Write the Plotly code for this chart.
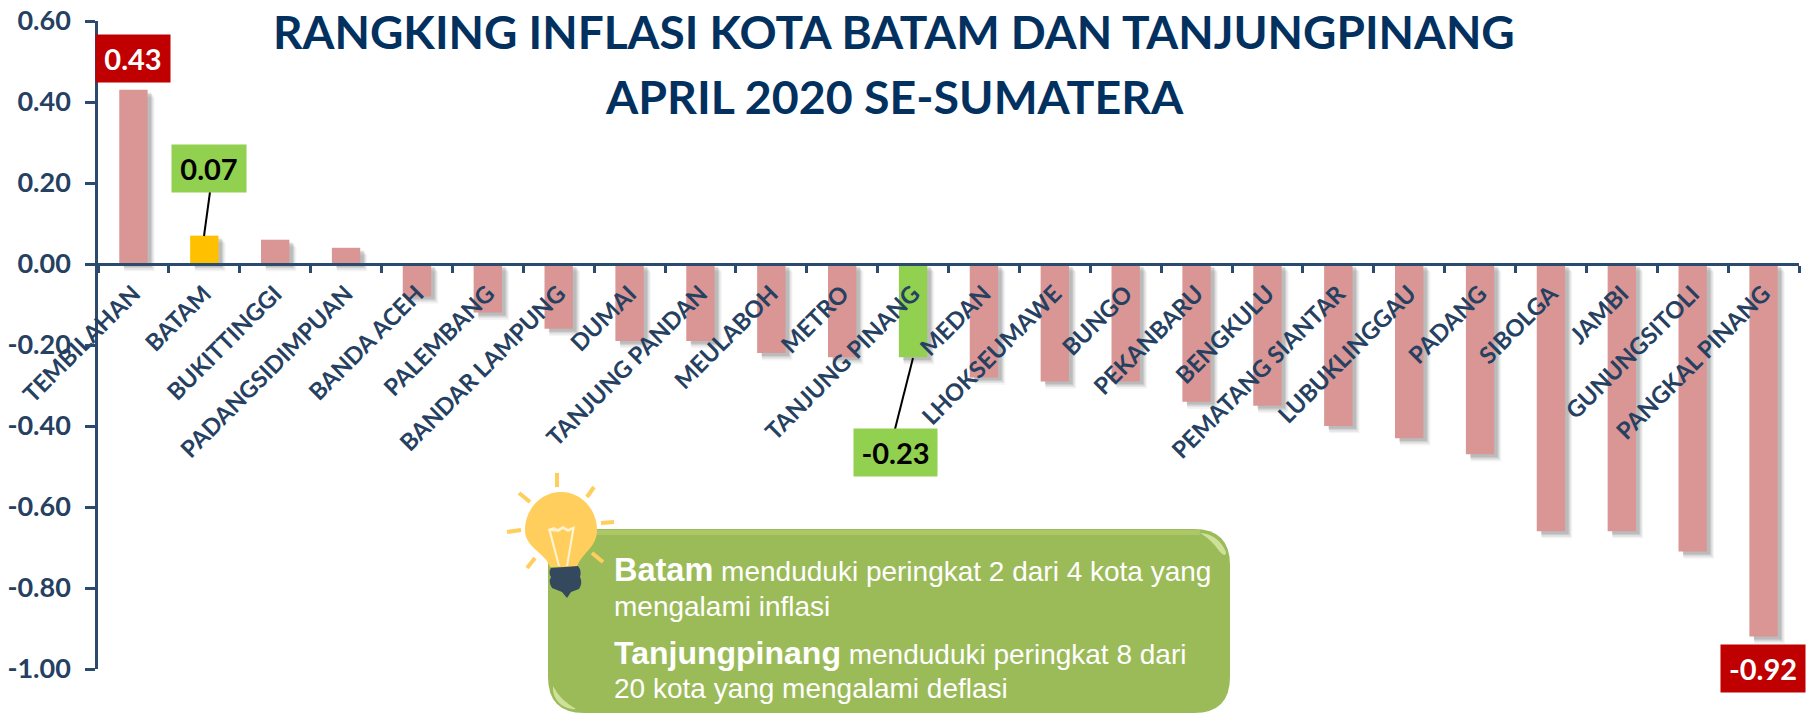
import plotly.graph_objects as go

categories = ["TEMBILAHAN", "BATAM", "BUKITTINGGI", "PADANGSIDIMPUAN", "BANDA ACEH", "PALEMBANG",
              "BANDAR LAMPUNG", "DUMAI", "TANJUNG PANDAN", "MEULABOH", "METRO", "TANJUNG PINANG",
              "MEDAN", "LHOKSEUMAWE", "BUNGO", "PEKANBARU", "BENGKULU", "PEMATANG SIANTAR",
              "LUBUKLINGGAU", "PADANG", "SIBOLGA", "JAMBI", "GUNUNGSITOLI", "PANGKAL PINANG"]
values = [0.43, 0.07, 0.06, 0.04, -0.08, -0.12, -0.16, -0.19, -0.19, -0.22, -0.23, -0.23,
          -0.28, -0.29, -0.29, -0.34, -0.35, -0.40, -0.43, -0.47, -0.66, -0.66, -0.71, -0.92]
y_ticks = [0.6, 0.4, 0.2, 0.0, -0.2, -0.4, -0.6, -0.8, -1.0]
y_tick_labels = ["0.60", "0.40", "0.20", "0.00", "-0.20", "-0.40", "-0.60", "-0.80", "-1.00"]
title_lines = ["RANGKING INFLASI KOTA BATAM DAN TANJUNGPINANG", "APRIL 2020 SE-SUMATERA"]

W, H = 1810, 714
L, R, T, B = 98, 1799, 21, 669
NAVY = "#2A4A6E"
LABEL = "#254061"
TITLE = "#03315F"
PINK = "#D99694"
GOLD = "#FFC000"
GREEN = "#92D050"
RED = "#C00000"
OLIVE = "#9BBB59"
BAR_W = 0.4


def px(x):
    return (x - L) / (R - L)


def py(y):
    return (B - y) / (B - T)


colors = [PINK] * len(values)
colors[1] = GOLD
colors[11] = GREEN

fig = go.Figure()
# soft shadow: stacked translucent copies of the bars, shifted right and down
for dx, dw, dy, a in [(0.085, 0.03, 0.018, 0.06), (0.075, 0.015, 0.014, 0.09),
                      (0.065, 0.0, 0.010, 0.12), (0.055, -0.01, 0.007, 0.15)]:
    w = BAR_W + dw
    fig.add_trace(go.Bar(x=categories, y=values, base=[-dy] * len(values), width=w, offset=-w / 2 + dx,
                         marker=dict(color=f"rgba(70,70,70,{a})", line_width=0), hoverinfo="skip", showlegend=False))
fig.add_trace(go.Bar(x=categories, y=values, width=BAR_W, offset=-BAR_W / 2,
                     marker=dict(color=colors, line_width=0), showlegend=False))

shapes = []


def line(x0, y0, x1, y1, color, width):
    shapes.append(dict(type="line", xref="paper", yref="paper", x0=px(x0), y0=py(y0), x1=px(x1), y1=py(y1),
                       line=dict(color=color, width=width), layer="above"))


def path(d, fill, lw=0, lc=None):
    shapes.append(dict(type="path", xref="paper", yref="paper", path=d, fillcolor=fill,
                       line=dict(width=lw, color=lc or fill), layer="above"))


def P(x, y):
    return f"{px(x):.5f} {py(y):.5f}"


# leaders
line(210, 192, 204, 236, "black", 2)
line(913, 358, 895, 429, "black", 2)

# callout box
x0, x1, y0, y1, r = 548, 1230, 529, 713, 36
path(f"M {P(x0 + r, y0)} L {P(x1 - r, y0)} Q {P(x1, y0)} {P(x1, y0 + r)} L {P(x1, y1 - r)} "
     f"Q {P(x1, y1)} {P(x1 - r, y1)} L {P(x0 + r, y1)} Q {P(x0, y1)} {P(x0, y1 - r)} "
     f"L {P(x0, y0 + r)} Q {P(x0, y0)} {P(x0 + r, y0)} Z", OLIVE)
# gloss: top band and corner highlights
path(f"M {P(x0 + 30, y0 + 1)} L {P(x1 - 30, y0 + 1)} L {P(x1 - 30, y0 + 6)} L {P(x0 + 30, y0 + 6)} Z", "rgba(190,215,120,0.45)")
path(f"M {P(1200, 533)} Q {P(1218, 534)} {P(1226, 552)} Q {P(1226, 558)} {P(1220, 552)} Q {P(1212, 540)} {P(1200, 533)} Z", "rgba(215,232,165,0.85)")
path(f"M {P(553, 686)} Q {P(560, 700)} {P(576, 709)} Q {P(568, 710)} {P(560, 704)} Q {P(552, 696)} {P(553, 686)} Z", "rgba(215,232,165,0.85)")

# light bulb
BULB = "#FFCE5C"
for a, b, c, d in [(557, 473, 557, 487), (594, 487, 587, 497), (614, 522, 601, 523), (519, 493, 530, 502),
                   (507, 532, 521, 530), (535, 558, 527, 568), (592, 553, 603, 562)]:
    line(a, b, c, d, BULB, 4)
path(f"M {P(561, 492)} C {P(582, 492)} {P(597, 510)} {P(597, 530)} C {P(597, 548)} {P(582, 552)} {P(577, 567)} "
     f"L {P(550, 567)} C {P(545, 552)} {P(525, 548)} {P(525, 530)} C {P(525, 510)} {P(540, 492)} {P(561, 492)} Z", BULB)
path(f"M {P(548, 529)} L {P(554, 527)} L {P(558, 529)} L {P(563, 526)} L {P(568, 529)} L {P(575, 526)} "
     f"L {P(568, 566)} L {P(566, 566)} L {P(572, 530)} L {P(568, 532)} L {P(563, 529)} L {P(558, 532)} L {P(551, 531)} "
     f"L {P(560, 566)} L {P(558, 566)} Z", "#FFF3D0")
path(f"M {P(551, 568)} L {P(578, 566)} Q {P(582, 571)} {P(580, 577)} Q {P(583, 583)} {P(579, 589)} "
     f"L {P(571, 592)} L {P(567, 598)} L {P(562, 592)} L {P(552, 588)} Q {P(548, 582)} {P(551, 577)} Q {P(548, 572)} {P(551, 568)} Z", "#34495E")

annotations = []


def text(x, y, s, size, color, family="Lato", anchor="center"):
    annotations.append(dict(xref="paper", yref="paper", x=px(x), y=py(y), text=s, showarrow=False, xanchor=anchor,
                            yanchor="middle", font=dict(family=family, size=size, color=color)))


def tag(i, cx, cy, w, h, fill, color):
    annotations.append(dict(xref="paper", yref="paper", x=px(cx), y=py(cy), text=f"<b>{values[i]:.2f}</b>",
                            showarrow=False, width=w, height=h, bgcolor=fill, align="center", valign="middle",
                            xanchor="center", yanchor="middle", borderpad=0,
                            font=dict(family="Lato", size=29, color=color)))


text(894, 32, f"<b>{title_lines[0]}</b>", 46, TITLE)
text(894, 96, f"<b>{title_lines[1]}</b>", 46.5, TITLE)
tag(0, 133, 58.5, 74, 47, RED, "white")
tag(1, 209, 168.5, 74, 47, GREEN, "black")
tag(11, 895.5, 452.5, 83, 47, GREEN, "black")
tag(23, 1763, 668.5, 84, 47, RED, "white")

ARIAL = "Liberation Sans"
annotations.append(dict(xref="paper", yref="paper", x=px(612), y=py(570), showarrow=False, xanchor="left", yanchor="middle",
                        text="<b><span style='font-size:32.5px'>Batam</span></b> menduduki peringkat 2 dari 4 kota yang",
                        font=dict(family=ARIAL, size=28, color="white")))
text(612, 606, "mengalami inflasi", 28, "white", ARIAL, "left")
annotations.append(dict(xref="paper", yref="paper", x=px(612), y=py(653), showarrow=False, xanchor="left", yanchor="middle",
                        text="<b><span style='font-size:32px'>Tanjungpinang</span></b> menduduki peringkat 8 dari",
                        font=dict(family=ARIAL, size=28, color="white")))
text(612, 688, "20 kota yang mengalami deflasi", 28, "white", ARIAL, "left")

fig.update_layout(
    width=W, height=H, barmode="overlay", paper_bgcolor="white", plot_bgcolor="white",
    margin=dict(l=L, r=W - R, t=T, b=H - B, pad=0), showlegend=False,
    shapes=shapes, annotations=annotations,
    xaxis=dict(type="category", categoryorder="array", categoryarray=categories, range=[-0.5, len(categories) - 0.5],
               anchor="free", position=0.625, tickson="boundaries", ticks="outside", ticklen=7, tickwidth=2.5, tickcolor=NAVY,
               showline=True, linecolor=NAVY, linewidth=2.5, showgrid=False, zeroline=False, tickangle=-45,
               ticklabelstandoff=5,
               tickfont=dict(family="Lato", size=23.5, color=LABEL, weight="bold"), automargin=False),
    yaxis=dict(range=[-1.0, 0.6], tickvals=y_ticks, ticktext=y_tick_labels, ticks="outside", ticklen=10, tickwidth=2.5,
               tickcolor=NAVY, showline=True, linecolor=NAVY, linewidth=2.5, showgrid=False, zeroline=False,
               ticklabelstandoff=9,
               tickfont=dict(family="Lato", size=27, color=LABEL, weight="bold"), automargin=False),
)

fig.write_html("out.html", post_script="document.body.style.margin='0';", config={"displayModeBar": False})
